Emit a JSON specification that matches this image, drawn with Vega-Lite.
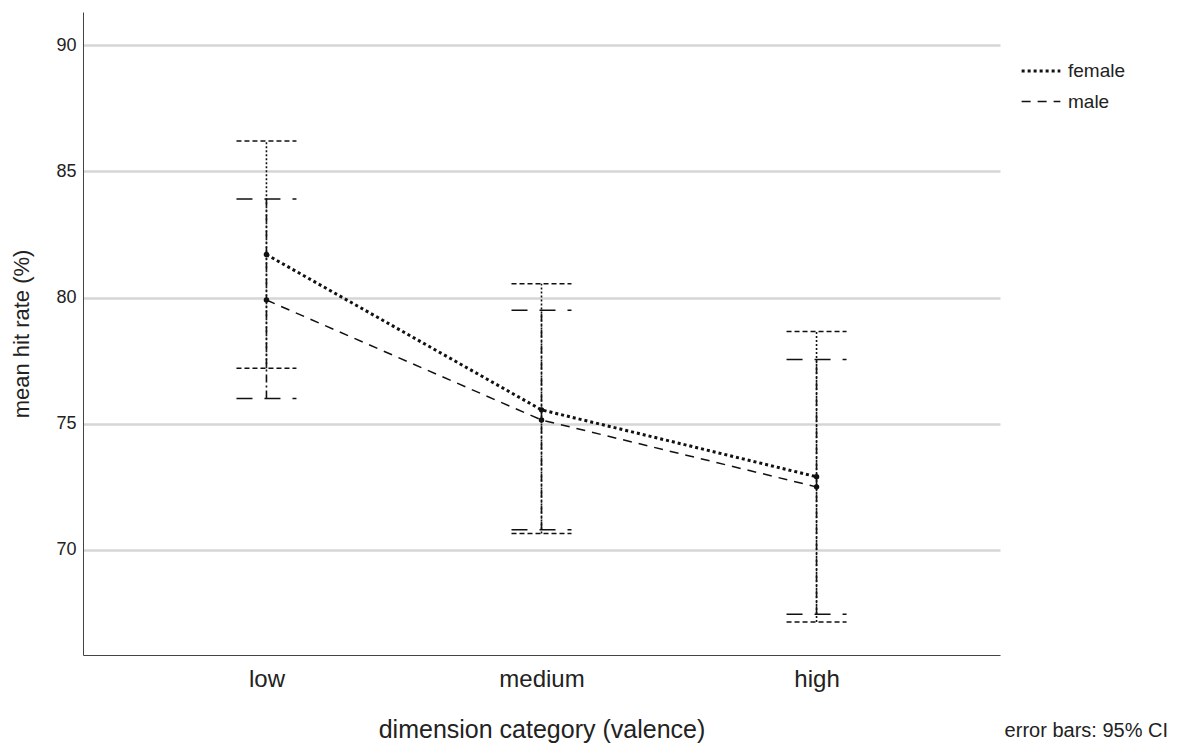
{
  "$schema": "https://vega.github.io/schema/vega-lite/v6.json",
  "width": 917,
  "height": 643,
  "autosize": "none",
  "padding": {"left": 83, "top": 12, "right": 178, "bottom": 89},
  "background": "white",
  "config": {
    "font": "Liberation Sans",
    "view": {"stroke": null},
    "axis": {"labelColor": "#222", "titleColor": "#222", "titleFontWeight": "normal", "domainColor": "#444", "ticks": false}
  },
  "title": {
    "text": "error bars: 95% CI",
    "orient": "bottom",
    "anchor": "end",
    "frame": "group",
    "fontSize": 20,
    "fontWeight": "normal",
    "color": "#222",
    "dx": 168,
    "dy": -25
  },
  "data": {
    "values": [
      {"cat": "low", "sex": "female", "mean": 81.7, "lo": 77.2, "hi": 86.2},
      {"cat": "low", "sex": "male", "mean": 79.9, "lo": 76.0, "hi": 83.9},
      {"cat": "medium", "sex": "female", "mean": 75.55, "lo": 70.65, "hi": 80.55},
      {"cat": "medium", "sex": "male", "mean": 75.15, "lo": 70.8, "hi": 79.5},
      {"cat": "high", "sex": "female", "mean": 72.9, "lo": 67.15, "hi": 78.65},
      {"cat": "high", "sex": "male", "mean": 72.5, "lo": 67.45, "hi": 77.55}
    ]
  },
  "encoding": {
    "x": {
      "field": "cat",
      "type": "nominal",
      "sort": ["low", "medium", "high"],
      "scale": {"type": "point", "padding": 0.667},
      "axis": {"title": "dimension category (valence)", "labelAngle": 0, "labelFontSize": 24, "labelPadding": 12, "titleFontSize": 25, "titlePadding": 26, "grid": false}
    }
  },
  "layer": [
    {
      "mark": {"type": "rule", "color": "#111", "strokeWidth": 1.6},
      "encoding": {
        "y": {
          "field": "lo",
          "type": "quantitative",
          "scale": {"domain": [65.84, 91.31], "nice": false, "zero": false},
          "axis": {"title": "mean hit rate (%)", "values": [70, 75, 80, 85, 90], "labelFontSize": 18, "labelPadding": 7, "titleFontSize": 22, "titlePadding": 22, "grid": true, "gridColor": "#d6d6d6", "gridWidth": 2.5}
        },
        "y2": {"field": "hi"},
        "strokeDash": {"field": "sex", "type": "nominal", "scale": {"domain": ["female", "male"], "range": [[2, 2], [8, 3, 2, 3]]}, "legend": null}
      }
    },
    {
      "mark": {"type": "rule", "color": "#111", "strokeWidth": 1.5, "xOffset": -30, "x2Offset": 30},
      "encoding": {
        "x2": {"field": "cat"},
        "y": {"field": "hi", "type": "quantitative"},
        "strokeDash": {"field": "sex", "type": "nominal", "scale": {"domain": ["female", "male"], "range": [[5, 3], [16, 12]]}, "legend": null}
      }
    },
    {
      "mark": {"type": "rule", "color": "#111", "strokeWidth": 1.5, "xOffset": -30, "x2Offset": 30},
      "encoding": {
        "x2": {"field": "cat"},
        "y": {"field": "lo", "type": "quantitative"},
        "strokeDash": {"field": "sex", "type": "nominal", "scale": {"domain": ["female", "male"], "range": [[5, 3], [16, 12]]}, "legend": null}
      }
    },
    {
      "mark": {"type": "line", "color": "#111"},
      "encoding": {
        "y": {"field": "mean", "type": "quantitative"},
        "detail": {"field": "sex"},
        "strokeDash": {
          "field": "sex",
          "type": "nominal",
          "scale": {"domain": ["female", "male"], "range": [[3, 3], [9, 7]]},
          "legend": {"title": null, "orient": "none", "legendX": 937, "legendY": 38, "symbolType": "stroke", "symbolSize": 1500, "symbolStrokeWidth": 3, "symbolStrokeColor": "#111", "labelFontSize": 19, "labelColor": "#222", "labelOffset": 6, "rowPadding": -4}
        },
        "strokeWidth": {"field": "sex", "type": "nominal", "scale": {"domain": ["female", "male"], "range": [3, 1.5]}, "legend": null}
      }
    },
    {
      "mark": {"type": "point", "filled": true, "color": "#111", "size": 30, "opacity": 1},
      "encoding": {
        "y": {"field": "mean", "type": "quantitative"}
      }
    }
  ],
  "resolve": {"scale": {"strokeDash": "independent", "strokeWidth": "independent"}, "legend": {"strokeDash": "independent"}}
}
